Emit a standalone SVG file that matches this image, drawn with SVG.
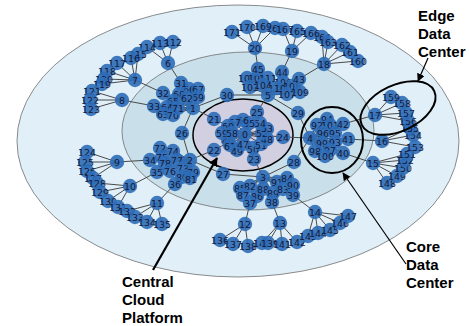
<svg xmlns="http://www.w3.org/2000/svg" width="469" height="326" viewBox="0 0 469 326">
<style>
.bg{stroke:#6e6e6e;stroke-width:0.8}
.node circle{fill:#2e6db8;fill-opacity:0.9}
.node text{font-family:"DejaVu Sans",sans-serif;font-size:9.4px;fill:#14193a;text-anchor:middle;dominant-baseline:central}
#edges line{stroke:#4a4a4a;stroke-width:1}
.ann{fill:none;stroke:#000;stroke-width:2}
.lbl{font-family:"Liberation Sans",Arial,sans-serif;font-weight:bold;font-size:15px;fill:#000}
</style>
<defs>
<marker id="ah" viewBox="0 0 10 10" refX="9" refY="5" markerWidth="8" markerHeight="8" markerUnits="userSpaceOnUse" orient="auto"><path d="M0,0L10,5L0,10z" fill="#000"/></marker>
<marker id="ah2" viewBox="0 0 10 10" refX="9" refY="5" markerWidth="9" markerHeight="9" markerUnits="userSpaceOnUse" orient="auto"><path d="M0,0L10,5L0,10z" fill="#000"/></marker>
</defs>
<g id="regions">
<ellipse class="bg" cx="238" cy="141" rx="221" ry="136" fill="#e0eff8"/>
<ellipse class="bg" cx="248" cy="131" rx="126" ry="79" fill="#c9dfea"/>
<ellipse cx="243" cy="135" rx="50" ry="36" fill="#d2d0e0" stroke="#000" stroke-width="1.5"/>
</g>
<g id="edges">
<line x1="245" y1="134" x2="214" y2="119"/><line x1="245" y1="134" x2="214" y2="150"/><line x1="245" y1="134" x2="254" y2="159"/><line x1="245" y1="134" x2="283" y2="137"/><line x1="245" y1="134" x2="257" y2="112"/>
<line x1="245" y1="134" x2="228" y2="140"/><line x1="245" y1="134" x2="243" y2="144"/><line x1="245" y1="134" x2="267" y2="139"/><line x1="245" y1="134" x2="237" y2="150"/><line x1="245" y1="134" x2="253" y2="148"/><line x1="245" y1="134" x2="261" y2="144"/><line x1="245" y1="134" x2="262" y2="133"/><line x1="245" y1="134" x2="267" y2="129"/><line x1="245" y1="134" x2="260" y2="123"/><line x1="245" y1="134" x2="249" y2="123"/><line x1="245" y1="134" x2="243" y2="120"/><line x1="245" y1="134" x2="235" y2="122"/><line x1="245" y1="134" x2="232" y2="133"/><line x1="245" y1="134" x2="222" y2="133"/><line x1="245" y1="134" x2="228" y2="126"/><line x1="245" y1="134" x2="230" y2="145"/>
<line x1="214" y1="119" x2="193" y2="108"/><line x1="214" y1="150" x2="190" y2="160"/><line x1="254" y1="159" x2="263" y2="177"/><line x1="283" y1="137" x2="310" y2="138"/><line x1="257" y1="112" x2="268" y2="95"/>
<line x1="182" y1="133" x2="193" y2="108"/><line x1="182" y1="133" x2="190" y2="160"/><line x1="223" y1="174" x2="190" y2="160"/><line x1="223" y1="174" x2="263" y2="177"/><line x1="294" y1="162" x2="263" y2="177"/><line x1="294" y1="162" x2="310" y2="138"/><line x1="298" y1="113" x2="310" y2="138"/><line x1="298" y1="113" x2="268" y2="95"/><line x1="227" y1="95" x2="268" y2="95"/><line x1="227" y1="95" x2="193" y2="108"/>
<line x1="193" y1="108" x2="181" y2="83"/><line x1="193" y1="108" x2="163" y2="93"/><line x1="193" y1="108" x2="154" y2="106"/>
<line x1="190" y1="160" x2="150" y2="160"/><line x1="190" y1="160" x2="157" y2="172"/><line x1="190" y1="160" x2="175" y2="184"/>
<line x1="263" y1="177" x2="250" y2="203"/><line x1="263" y1="177" x2="272" y2="202"/><line x1="263" y1="177" x2="293" y2="195"/>
<line x1="310" y1="138" x2="343" y2="153"/><line x1="310" y1="138" x2="348" y2="139"/><line x1="310" y1="138" x2="343" y2="124"/>
<line x1="268" y1="95" x2="299" y2="79"/><line x1="268" y1="95" x2="282" y2="72"/><line x1="268" y1="95" x2="258" y2="69"/>
<line x1="193" y1="108" x2="187" y2="98"/><line x1="193" y1="108" x2="163" y2="114"/><line x1="193" y1="108" x2="167" y2="107"/><line x1="193" y1="108" x2="173" y2="101"/><line x1="193" y1="108" x2="189" y2="89"/><line x1="193" y1="108" x2="198" y2="89"/><line x1="193" y1="108" x2="179" y2="94"/><line x1="193" y1="108" x2="198" y2="97"/><line x1="193" y1="108" x2="173" y2="115"/><line x1="193" y1="108" x2="178" y2="108"/>
<line x1="190" y1="160" x2="160" y2="148"/><line x1="190" y1="160" x2="183" y2="168"/><line x1="190" y1="160" x2="173" y2="151"/><line x1="190" y1="160" x2="162" y2="157"/><line x1="190" y1="160" x2="170" y2="171"/><line x1="190" y1="160" x2="177" y2="160"/><line x1="190" y1="160" x2="165" y2="163"/><line x1="190" y1="160" x2="193" y2="172"/><line x1="190" y1="160" x2="182" y2="177"/><line x1="190" y1="160" x2="190" y2="178"/>
<line x1="263" y1="177" x2="250" y2="186"/><line x1="263" y1="177" x2="283" y2="189"/><line x1="263" y1="177" x2="287" y2="178"/><line x1="263" y1="177" x2="240" y2="188"/><line x1="263" y1="177" x2="257" y2="196"/><line x1="263" y1="177" x2="243" y2="195"/><line x1="263" y1="177" x2="263" y2="189"/><line x1="263" y1="177" x2="273" y2="193"/><line x1="263" y1="177" x2="293" y2="185"/><line x1="263" y1="177" x2="277" y2="182"/>
<line x1="310" y1="138" x2="317" y2="125"/><line x1="310" y1="138" x2="335" y2="142"/><line x1="310" y1="138" x2="327" y2="119"/><line x1="310" y1="138" x2="335" y2="133"/><line x1="310" y1="138" x2="323" y2="133"/><line x1="310" y1="138" x2="330" y2="150"/><line x1="310" y1="138" x2="315" y2="151"/><line x1="310" y1="138" x2="322" y2="143"/><line x1="310" y1="138" x2="325" y2="156"/><line x1="310" y1="138" x2="330" y2="125"/>
<line x1="268" y1="95" x2="247" y2="78"/><line x1="268" y1="95" x2="250" y2="87"/><line x1="268" y1="95" x2="263" y2="85"/><line x1="268" y1="95" x2="257" y2="78"/><line x1="268" y1="95" x2="283" y2="82"/><line x1="268" y1="95" x2="287" y2="94"/><line x1="268" y1="95" x2="292" y2="86"/><line x1="268" y1="95" x2="300" y2="92"/><line x1="268" y1="95" x2="277" y2="88"/><line x1="268" y1="95" x2="268" y2="78"/>
<line x1="181" y1="83" x2="168" y2="63"/><line x1="163" y1="93" x2="135" y2="80"/><line x1="154" y1="106" x2="122" y2="100"/><line x1="150" y1="160" x2="117" y2="162"/><line x1="157" y1="172" x2="130" y2="186"/><line x1="175" y1="184" x2="157" y2="203"/><line x1="250" y1="203" x2="245" y2="224"/><line x1="272" y1="202" x2="280" y2="223"/><line x1="293" y1="195" x2="315" y2="212"/><line x1="343" y1="153" x2="373" y2="163"/><line x1="348" y1="139" x2="382" y2="141"/><line x1="343" y1="124" x2="375" y2="115"/><line x1="299" y1="79" x2="324" y2="64"/><line x1="282" y1="72" x2="292" y2="51"/><line x1="258" y1="69" x2="255" y2="48"/>
<line x1="168" y1="63" x2="173" y2="42"/><line x1="168" y1="63" x2="160" y2="43"/><line x1="168" y1="63" x2="147" y2="47"/>
<line x1="135" y1="80" x2="138" y2="54"/><line x1="135" y1="80" x2="131" y2="58"/><line x1="135" y1="80" x2="117" y2="63"/><line x1="135" y1="80" x2="107" y2="71"/><line x1="135" y1="80" x2="102" y2="84"/><line x1="135" y1="80" x2="104" y2="79"/>
<line x1="122" y1="100" x2="92" y2="91"/><line x1="122" y1="100" x2="90" y2="100"/><line x1="122" y1="100" x2="91" y2="109"/>
<line x1="117" y1="162" x2="87" y2="152"/><line x1="117" y1="162" x2="85" y2="162"/><line x1="117" y1="162" x2="87" y2="171"/><line x1="117" y1="162" x2="93" y2="178"/>
<line x1="130" y1="186" x2="97" y2="183"/><line x1="130" y1="186" x2="100" y2="192"/><line x1="130" y1="186" x2="108" y2="201"/><line x1="130" y1="186" x2="118" y2="207"/>
<line x1="157" y1="203" x2="127" y2="211"/><line x1="157" y1="203" x2="135" y2="217"/><line x1="157" y1="203" x2="147" y2="222"/><line x1="157" y1="203" x2="162" y2="224"/>
<line x1="245" y1="224" x2="220" y2="240"/><line x1="245" y1="224" x2="233" y2="244"/><line x1="245" y1="224" x2="248" y2="246"/>
<line x1="280" y1="223" x2="268" y2="243"/><line x1="280" y1="223" x2="262" y2="243"/><line x1="280" y1="223" x2="282" y2="244"/><line x1="280" y1="223" x2="297" y2="242"/>
<line x1="315" y1="212" x2="308" y2="236"/><line x1="315" y1="212" x2="318" y2="233"/><line x1="315" y1="212" x2="330" y2="230"/><line x1="315" y1="212" x2="340" y2="223"/><line x1="315" y1="212" x2="348" y2="216"/>
<line x1="373" y1="163" x2="387" y2="183"/><line x1="373" y1="163" x2="397" y2="176"/><line x1="373" y1="163" x2="403" y2="168"/><line x1="373" y1="163" x2="407" y2="154"/><line x1="373" y1="163" x2="405" y2="160"/>
<line x1="382" y1="141" x2="415" y2="147"/><line x1="382" y1="141" x2="413" y2="135"/><line x1="382" y1="141" x2="410" y2="128"/>
<line x1="375" y1="115" x2="408" y2="121"/><line x1="375" y1="115" x2="406" y2="113"/><line x1="375" y1="115" x2="402" y2="103"/><line x1="375" y1="115" x2="391" y2="97"/>
<line x1="324" y1="64" x2="358" y2="61"/><line x1="324" y1="64" x2="350" y2="52"/><line x1="324" y1="64" x2="342" y2="45"/><line x1="324" y1="64" x2="328" y2="42"/><line x1="324" y1="64" x2="322" y2="37"/>
<line x1="292" y1="51" x2="297" y2="31"/><line x1="292" y1="51" x2="311" y2="33"/><line x1="292" y1="51" x2="283" y2="29"/>
<line x1="255" y1="48" x2="275" y2="28"/><line x1="255" y1="48" x2="263" y2="26"/><line x1="255" y1="48" x2="247" y2="27"/><line x1="255" y1="48" x2="232" y2="32"/>
</g>
<g id="nodes">
<g id="n112" class="node"><circle cx="173" cy="42" r="7.2"/><text x="173" y="42">112</text></g>
<g id="n113" class="node"><circle cx="160" cy="43" r="7.2"/><text x="160" y="43">113</text></g>
<g id="n114" class="node"><circle cx="147" cy="47" r="7.2"/><text x="147" y="47">114</text></g>
<g id="n115" class="node"><circle cx="138" cy="54" r="7.2"/><text x="138" y="54">115</text></g>
<g id="n116" class="node"><circle cx="131" cy="58" r="7.2"/><text x="131" y="58">116</text></g>
<g id="n117" class="node"><circle cx="117" cy="63" r="7.2"/><text x="117" y="63">117</text></g>
<g id="n118" class="node"><circle cx="107" cy="71" r="7.2"/><text x="107" y="71">118</text></g>
<g id="n120" class="node"><circle cx="104" cy="79" r="7.2"/><text x="104" y="79">120</text></g>
<g id="n119" class="node"><circle cx="102" cy="84" r="7.2"/><text x="102" y="84">119</text></g>
<g id="n121" class="node"><circle cx="92" cy="91" r="7.2"/><text x="92" y="91">121</text></g>
<g id="n122" class="node"><circle cx="90" cy="100" r="7.2"/><text x="90" y="100">122</text></g>
<g id="n123" class="node"><circle cx="91" cy="109" r="7.2"/><text x="91" y="109">123</text></g>
<g id="n124" class="node"><circle cx="87" cy="152" r="7.2"/><text x="87" y="152">124</text></g>
<g id="n125" class="node"><circle cx="85" cy="162" r="7.2"/><text x="85" y="162">125</text></g>
<g id="n126" class="node"><circle cx="87" cy="171" r="7.2"/><text x="87" y="171">126</text></g>
<g id="n127" class="node"><circle cx="93" cy="178" r="7.2"/><text x="93" y="178">127</text></g>
<g id="n128" class="node"><circle cx="97" cy="183" r="7.2"/><text x="97" y="183">128</text></g>
<g id="n129" class="node"><circle cx="100" cy="192" r="7.2"/><text x="100" y="192">129</text></g>
<g id="n130" class="node"><circle cx="108" cy="201" r="7.2"/><text x="108" y="201">130</text></g>
<g id="n131" class="node"><circle cx="118" cy="207" r="7.2"/><text x="118" y="207">131</text></g>
<g id="n132" class="node"><circle cx="127" cy="211" r="7.2"/><text x="127" y="211">132</text></g>
<g id="n133" class="node"><circle cx="135" cy="217" r="7.2"/><text x="135" y="217">133</text></g>
<g id="n134" class="node"><circle cx="147" cy="222" r="7.2"/><text x="147" y="222">134</text></g>
<g id="n135" class="node"><circle cx="162" cy="224" r="7.2"/><text x="162" y="224">135</text></g>
<g id="n136" class="node"><circle cx="220" cy="240" r="7.2"/><text x="220" y="240">136</text></g>
<g id="n137" class="node"><circle cx="233" cy="244" r="7.2"/><text x="233" y="244">137</text></g>
<g id="n138" class="node"><circle cx="248" cy="246" r="7.2"/><text x="248" y="246">138</text></g>
<g id="n140" class="node"><circle cx="262" cy="243" r="7.2"/><text x="262" y="243">140</text></g>
<g id="n139" class="node"><circle cx="268" cy="243" r="7.2"/><text x="270" y="243">139</text></g>
<g id="n141" class="node"><circle cx="282" cy="244" r="7.2"/><text x="282" y="244">141</text></g>
<g id="n142" class="node"><circle cx="297" cy="242" r="7.2"/><text x="297" y="242">142</text></g>
<g id="n143" class="node"><circle cx="308" cy="236" r="7.2"/><text x="308" y="236">143</text></g>
<g id="n144" class="node"><circle cx="318" cy="233" r="7.2"/><text x="318" y="233">144</text></g>
<g id="n145" class="node"><circle cx="330" cy="230" r="7.2"/><text x="330" y="230">145</text></g>
<g id="n146" class="node"><circle cx="340" cy="223" r="7.2"/><text x="340" y="223">146</text></g>
<g id="n147" class="node"><circle cx="348" cy="216" r="7.2"/><text x="348" y="216">147</text></g>
<g id="n148" class="node"><circle cx="387" cy="183" r="7.2"/><text x="387" y="183">148</text></g>
<g id="n149" class="node"><circle cx="397" cy="176" r="7.2"/><text x="397" y="176">149</text></g>
<g id="n150" class="node"><circle cx="403" cy="168" r="7.2"/><text x="403" y="168">150</text></g>
<g id="n152" class="node"><circle cx="405" cy="160" r="7.2"/><text x="405" y="160">152</text></g>
<g id="n151" class="node"><circle cx="407" cy="154" r="7.2"/><text x="407" y="154">151</text></g>
<g id="n153" class="node"><circle cx="415" cy="147" r="7.2"/><text x="415" y="147">153</text></g>
<g id="n154" class="node"><circle cx="413" cy="135" r="7.2"/><text x="413" y="135">154</text></g>
<g id="n155" class="node"><circle cx="410" cy="128" r="7.2"/><text x="410" y="128">155</text></g>
<g id="n156" class="node"><circle cx="408" cy="121" r="7.2"/><text x="408" y="121">156</text></g>
<g id="n157" class="node"><circle cx="406" cy="113" r="7.2"/><text x="406" y="113">157</text></g>
<g id="n158" class="node"><circle cx="402" cy="103" r="7.2"/><text x="402" y="103">158</text></g>
<g id="n159" class="node"><circle cx="391" cy="97" r="7.2"/><text x="391" y="97">159</text></g>
<g id="n160" class="node"><circle cx="358" cy="61" r="7.2"/><text x="358" y="61">160</text></g>
<g id="n161" class="node"><circle cx="350" cy="52" r="7.2"/><text x="350" y="52">161</text></g>
<g id="n162" class="node"><circle cx="342" cy="45" r="7.2"/><text x="342" y="45">162</text></g>
<g id="n164" class="node"><circle cx="322" cy="37" r="7.2"/><text x="322" y="37">164</text></g>
<g id="n163" class="node"><circle cx="328" cy="42" r="7.2"/><text x="328" y="42">163</text></g>
<g id="n166" class="node"><circle cx="311" cy="33" r="7.2"/><text x="311" y="33">166</text></g>
<g id="n165" class="node"><circle cx="297" cy="31" r="7.2"/><text x="297" y="31">165</text></g>
<g id="n168" class="node"><circle cx="275" cy="28" r="7.2"/><text x="275" y="28">168</text></g>
<g id="n167" class="node"><circle cx="283" cy="29" r="7.2"/><text x="285" y="29">167</text></g>
<g id="n169" class="node"><circle cx="263" cy="26" r="7.2"/><text x="263" y="26">169</text></g>
<g id="n170" class="node"><circle cx="247" cy="27" r="7.2"/><text x="247" y="27">170</text></g>
<g id="n171" class="node"><circle cx="232" cy="32" r="7.2"/><text x="232" y="32">171</text></g>
<g id="n46" class="node"><circle cx="228" cy="140" r="7.2"/><text x="228" y="140">46</text></g>
<g id="n61" class="node"><circle cx="230" cy="145" r="7.2"/><text x="230" y="146">61</text></g>
<g id="n49" class="node"><circle cx="237" cy="150" r="7.2"/><text x="237" y="151">49</text></g>
<g id="n47" class="node"><circle cx="243" cy="144" r="7.2"/><text x="243" y="144">47</text></g>
<g id="n50" class="node"><circle cx="253" cy="148" r="7.2"/><text x="253" y="149">50</text></g>
<g id="n51" class="node"><circle cx="261" cy="144" r="7.2"/><text x="261" y="145">51</text></g>
<g id="n48" class="node"><circle cx="267" cy="139" r="7.2"/><text x="267" y="139">48</text></g>
<g id="n52" class="node"><circle cx="262" cy="133" r="7.2"/><text x="262" y="133">52</text></g>
<g id="n53" class="node"><circle cx="267" cy="129" r="7.2"/><text x="267" y="128">53</text></g>
<g id="n54" class="node"><circle cx="260" cy="123" r="7.2"/><text x="260" y="123">54</text></g>
<g id="n55" class="node"><circle cx="249" cy="123" r="7.2"/><text x="249" y="123">55</text></g>
<g id="n56" class="node"><circle cx="243" cy="120" r="7.2"/><text x="243" y="120">56</text></g>
<g id="n57" class="node"><circle cx="235" cy="122" r="7.2"/><text x="235" y="122">57</text></g>
<g id="n60" class="node"><circle cx="228" cy="126" r="7.2"/><text x="228" y="126">60</text></g>
<g id="n59" class="node"><circle cx="222" cy="133" r="7.2"/><text x="222" y="133">59</text></g>
<g id="n58" class="node"><circle cx="232" cy="133" r="7.2"/><text x="232" y="133">58</text></g>
<g id="n66" class="node"><circle cx="189" cy="89" r="7.2"/><text x="189" y="89">66</text></g>
<g id="n67" class="node"><circle cx="198" cy="89" r="7.2"/><text x="198" y="89">67</text></g>
<g id="n68" class="node"><circle cx="179" cy="94" r="7.2"/><text x="179" y="94">68</text></g>
<g id="n69" class="node"><circle cx="198" cy="97" r="7.2"/><text x="198" y="97">69</text></g>
<g id="n62" class="node"><circle cx="187" cy="98" r="7.2"/><text x="187" y="98">62</text></g>
<g id="n65" class="node"><circle cx="173" cy="101" r="7.2"/><text x="173" y="101">65</text></g>
<g id="n64" class="node"><circle cx="167" cy="107" r="7.2"/><text x="167" y="107">64</text></g>
<g id="n63" class="node"><circle cx="163" cy="114" r="7.2"/><text x="163" y="114">63</text></g>
<g id="n70" class="node"><circle cx="173" cy="115" r="7.2"/><text x="173" y="115">70</text></g>
<g id="n71" class="node"><circle cx="178" cy="108" r="7.2"/><text x="178" y="108">71</text></g>
<g id="n72" class="node"><circle cx="160" cy="148" r="7.2"/><text x="160" y="148">72</text></g>
<g id="n74" class="node"><circle cx="173" cy="151" r="7.2"/><text x="173" y="151">74</text></g>
<g id="n75" class="node"><circle cx="162" cy="157" r="7.2"/><text x="162" y="157">75</text></g>
<g id="n77" class="node"><circle cx="177" cy="160" r="7.2"/><text x="177" y="160">77</text></g>
<g id="n78" class="node"><circle cx="165" cy="163" r="7.2"/><text x="165" y="163">78</text></g>
<g id="n76" class="node"><circle cx="170" cy="171" r="7.2"/><text x="170" y="171">76</text></g>
<g id="n73" class="node"><circle cx="183" cy="168" r="7.2"/><text x="183" y="168">73</text></g>
<g id="n79" class="node"><circle cx="193" cy="172" r="7.2"/><text x="193" y="172">79</text></g>
<g id="n80" class="node"><circle cx="182" cy="177" r="7.2"/><text x="182" y="177">80</text></g>
<g id="n81" class="node"><circle cx="190" cy="178" r="7.2"/><text x="191" y="179">81</text></g>
<g id="n85" class="node"><circle cx="240" cy="188" r="7.2"/><text x="240" y="188">85</text></g>
<g id="n82" class="node"><circle cx="250" cy="186" r="7.2"/><text x="250" y="186">82</text></g>
<g id="n87" class="node"><circle cx="243" cy="195" r="7.2"/><text x="243" y="195">87</text></g>
<g id="n86" class="node"><circle cx="257" cy="196" r="7.2"/><text x="257" y="196">86</text></g>
<g id="n88" class="node"><circle cx="263" cy="189" r="7.2"/><text x="263" y="189">88</text></g>
<g id="n89" class="node"><circle cx="273" cy="193" r="7.2"/><text x="273" y="193">89</text></g>
<g id="n91" class="node"><circle cx="277" cy="182" r="7.2"/><text x="277" y="182">91</text></g>
<g id="n84" class="node"><circle cx="287" cy="178" r="7.2"/><text x="287" y="178">84</text></g>
<g id="n83" class="node"><circle cx="283" cy="189" r="7.2"/><text x="283" y="189">83</text></g>
<g id="n90" class="node"><circle cx="293" cy="185" r="7.2"/><text x="293" y="185">90</text></g>
<g id="n94" class="node"><circle cx="327" cy="119" r="7.2"/><text x="327" y="119">94</text></g>
<g id="n92" class="node"><circle cx="317" cy="125" r="7.2"/><text x="317" y="125">92</text></g>
<g id="n101" class="node"><circle cx="330" cy="125" r="7.2"/><text x="330" y="125">101</text></g>
<g id="n96" class="node"><circle cx="323" cy="133" r="7.2"/><text x="323" y="133">96</text></g>
<g id="n95" class="node"><circle cx="335" cy="133" r="7.2"/><text x="335" y="133">95</text></g>
<g id="n99" class="node"><circle cx="322" cy="143" r="7.2"/><text x="322" y="143">99</text></g>
<g id="n93" class="node"><circle cx="335" cy="142" r="7.2"/><text x="335" y="142">93</text></g>
<g id="n98" class="node"><circle cx="315" cy="151" r="7.2"/><text x="315" y="151">98</text></g>
<g id="n97" class="node"><circle cx="330" cy="150" r="7.2"/><text x="330" y="150">97</text></g>
<g id="n100" class="node"><circle cx="325" cy="156" r="7.2"/><text x="325" y="156">100</text></g>
<g id="n102" class="node"><circle cx="247" cy="78" r="7.2"/><text x="247" y="78">102</text></g>
<g id="n105" class="node"><circle cx="257" cy="78" r="7.2"/><text x="257" y="78">105</text></g>
<g id="n111" class="node"><circle cx="268" cy="78" r="7.2"/><text x="268" y="78">111</text></g>
<g id="n106" class="node"><circle cx="283" cy="82" r="7.2"/><text x="283" y="82">106</text></g>
<g id="n103" class="node"><circle cx="250" cy="87" r="7.2"/><text x="250" y="87">103</text></g>
<g id="n104" class="node"><circle cx="263" cy="85" r="7.2"/><text x="263" y="85">104</text></g>
<g id="n110" class="node"><circle cx="277" cy="88" r="7.2"/><text x="277" y="88">110</text></g>
<g id="n108" class="node"><circle cx="292" cy="86" r="7.2"/><text x="292" y="86">108</text></g>
<g id="n107" class="node"><circle cx="287" cy="94" r="7.2"/><text x="287" y="94">107</text></g>
<g id="n109" class="node"><circle cx="300" cy="92" r="7.2"/><text x="300" y="92">109</text></g>
<g id="n6" class="node"><circle cx="168" cy="63" r="7.2"/><text x="168" y="63">6</text></g>
<g id="n7" class="node"><circle cx="135" cy="80" r="7.2"/><text x="135" y="80">7</text></g>
<g id="n8" class="node"><circle cx="122" cy="100" r="7.2"/><text x="122" y="100">8</text></g>
<g id="n9" class="node"><circle cx="117" cy="162" r="7.2"/><text x="117" y="162">9</text></g>
<g id="n10" class="node"><circle cx="130" cy="186" r="7.2"/><text x="130" y="186">10</text></g>
<g id="n11" class="node"><circle cx="157" cy="203" r="7.2"/><text x="157" y="203">11</text></g>
<g id="n12" class="node"><circle cx="245" cy="224" r="7.2"/><text x="245" y="224">12</text></g>
<g id="n13" class="node"><circle cx="280" cy="223" r="7.2"/><text x="280" y="223">13</text></g>
<g id="n14" class="node"><circle cx="315" cy="212" r="7.2"/><text x="315" y="212">14</text></g>
<g id="n15" class="node"><circle cx="373" cy="163" r="7.2"/><text x="373" y="163">15</text></g>
<g id="n16" class="node"><circle cx="382" cy="141" r="7.2"/><text x="382" y="141">16</text></g>
<g id="n17" class="node"><circle cx="375" cy="115" r="7.2"/><text x="375" y="115">17</text></g>
<g id="n18" class="node"><circle cx="324" cy="64" r="7.2"/><text x="324" y="64">18</text></g>
<g id="n19" class="node"><circle cx="292" cy="51" r="7.2"/><text x="292" y="51">19</text></g>
<g id="n20" class="node"><circle cx="255" cy="48" r="7.2"/><text x="255" y="48">20</text></g>
<g id="n21" class="node"><circle cx="214" cy="119" r="7.2"/><text x="214" y="119">21</text></g>
<g id="n22" class="node"><circle cx="214" cy="150" r="7.2"/><text x="214" y="150">22</text></g>
<g id="n23" class="node"><circle cx="254" cy="159" r="7.2"/><text x="254" y="159">23</text></g>
<g id="n24" class="node"><circle cx="283" cy="137" r="7.2"/><text x="283" y="137">24</text></g>
<g id="n25" class="node"><circle cx="257" cy="112" r="7.2"/><text x="257" y="112">25</text></g>
<g id="n26" class="node"><circle cx="182" cy="133" r="7.2"/><text x="182" y="133">26</text></g>
<g id="n27" class="node"><circle cx="223" cy="174" r="7.2"/><text x="223" y="174">27</text></g>
<g id="n28" class="node"><circle cx="294" cy="162" r="7.2"/><text x="294" y="162">28</text></g>
<g id="n29" class="node"><circle cx="298" cy="113" r="7.2"/><text x="298" y="113">29</text></g>
<g id="n30" class="node"><circle cx="227" cy="95" r="7.2"/><text x="227" y="95">30</text></g>
<g id="n31" class="node"><circle cx="181" cy="83" r="7.2"/><text x="181" y="83">31</text></g>
<g id="n32" class="node"><circle cx="163" cy="93" r="7.2"/><text x="163" y="93">32</text></g>
<g id="n33" class="node"><circle cx="154" cy="106" r="7.2"/><text x="154" y="106">33</text></g>
<g id="n34" class="node"><circle cx="150" cy="160" r="7.2"/><text x="150" y="160">34</text></g>
<g id="n35" class="node"><circle cx="157" cy="172" r="7.2"/><text x="157" y="172">35</text></g>
<g id="n36" class="node"><circle cx="175" cy="184" r="7.2"/><text x="175" y="184">36</text></g>
<g id="n37" class="node"><circle cx="250" cy="203" r="7.2"/><text x="250" y="203">37</text></g>
<g id="n38" class="node"><circle cx="272" cy="202" r="7.2"/><text x="272" y="202">38</text></g>
<g id="n39" class="node"><circle cx="293" cy="195" r="7.2"/><text x="293" y="195">39</text></g>
<g id="n40" class="node"><circle cx="343" cy="153" r="7.2"/><text x="343" y="153">40</text></g>
<g id="n41" class="node"><circle cx="348" cy="139" r="7.2"/><text x="348" y="139">41</text></g>
<g id="n42" class="node"><circle cx="343" cy="124" r="7.2"/><text x="343" y="124">42</text></g>
<g id="n43" class="node"><circle cx="299" cy="79" r="7.2"/><text x="299" y="79">43</text></g>
<g id="n44" class="node"><circle cx="282" cy="72" r="7.2"/><text x="282" y="72">44</text></g>
<g id="n45" class="node"><circle cx="258" cy="69" r="7.2"/><text x="258" y="69">45</text></g>
<g id="n0" class="node"><circle cx="245" cy="134" r="7.2"/><text x="245" y="134">0</text></g>
<g id="n1" class="node"><circle cx="193" cy="108" r="7.2"/><text x="193" y="108">1</text></g>
<g id="n2" class="node"><circle cx="190" cy="160" r="7.2"/><text x="190" y="160">2</text></g>
<g id="n3" class="node"><circle cx="263" cy="177" r="7.2"/><text x="263" y="177">3</text></g>
<g id="n4" class="node"><circle cx="310" cy="138" r="7.2"/><text x="310" y="138">4</text></g>
<g id="n5" class="node"><circle cx="268" cy="95" r="7.2"/><text x="268" y="95">5</text></g>
</g>
<g id="annotations">
<ellipse class="ann" cx="332" cy="140" rx="31" ry="33"/>
<ellipse class="ann" cx="398" cy="108" rx="40" ry="23" transform="rotate(-25 398 108)"/>
<line x1="428" y1="58" x2="418" y2="81" stroke="#000" stroke-width="1.2" marker-end="url(#ah)"/>
<line x1="406" y1="264" x2="343" y2="173" stroke="#000" stroke-width="1.2" marker-end="url(#ah)"/>
<line x1="153" y1="270" x2="217" y2="158" stroke="#000" stroke-width="2.2" marker-end="url(#ah2)"/>
<text class="lbl" x="418" y="21">Edge</text>
<text class="lbl" x="418" y="39">Data</text>
<text class="lbl" x="418" y="57">Center</text>
<text class="lbl" x="406" y="252">Core</text>
<text class="lbl" x="406" y="270">Data</text>
<text class="lbl" x="406" y="288">Center</text>
<text class="lbl" x="122" y="287">Central</text>
<text class="lbl" x="122" y="305">Cloud</text>
<text class="lbl" x="122" y="323">Platform</text>
</g>
</svg>
